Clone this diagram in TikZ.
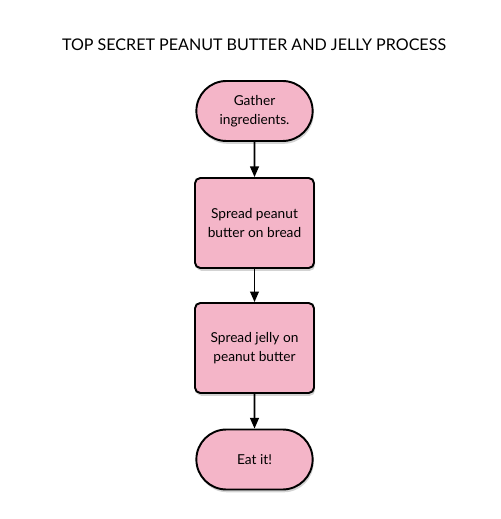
\documentclass[tikz,border=0pt]{standalone}
\usepackage{fontspec}
\setmainfont{Lato}
\usetikzlibrary{arrows.meta, calc, shapes.misc, shadows}
\definecolor{pbjpink}{HTML}{F4B5C8}

\tikzset{
    paso/.style={draw=black, line width=1.1pt, fill=pbjpink, rounded corners=3pt,
        minimum width=2.38cm, minimum height=1.8cm, align=center, font=\fontsize{7.8}{10.5}\selectfont,
        drop shadow={shadow xshift=0.6pt, shadow yshift=-1.6pt, opacity=0.35}},
    extremo/.style={paso, rounded rectangle, rounded corners=0pt, minimum width=2.56cm, minimum height=1.2cm}
}

\begin{document}
\begin{tikzpicture}[x=0.02cm, y=-0.02cm]
    \useasboundingbox (0,0) rectangle (500,519);
    % Titulo
    \node[font=\fontsize{9.15}{12}\selectfont] (titulo) at (254,45) {TOP SECRET PEANUT BUTTER AND JELLY PROCESS};
    % Pasos del proceso
    \node[extremo] (reunir) at (254.5,111) {Gather\\ingredients.};
    \node[paso] (mani) at (254.5,223) {Spread peanut\\butter on bread};
    \node[paso] (jalea) at (254.5,348) {Spread jelly on\\peanut butter};
    \node[extremo] (comer) at (254.5,459.5) {Eat it!};
    % Flechas
    \foreach \a/\b in {reunir/mani, mani/jalea, jalea/comer} {
        \draw[-{Triangle[length=6pt, width=5pt]}, line width=0.9pt] (\a) -- (\b);
    }
\end{tikzpicture}
\end{document}
